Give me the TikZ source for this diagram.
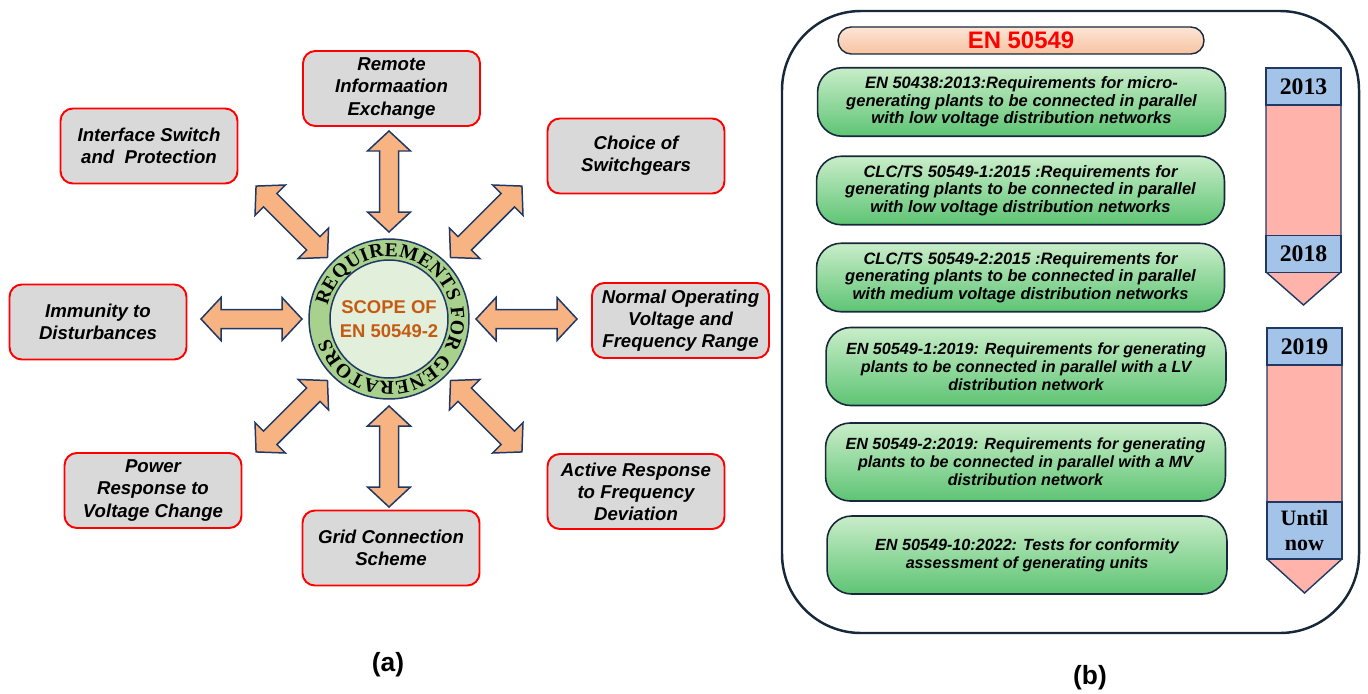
\documentclass[tikz,border=0pt]{standalone}
\usepackage{fontspec}
\setmainfont{Liberation Sans}
\newfontfamily\serifyear{Liberation Serif}
\usepackage{xcolor}
\usetikzlibrary{positioning,calc,decorations.text}

\definecolor{boxgray}{HTML}{D9D9D9}
\definecolor{arrowfill}{HTML}{F8B382}
\definecolor{navy}{HTML}{1F3864}
\definecolor{ringgreen}{HTML}{A9D18E}
\definecolor{innergreen}{HTML}{E2EFDA}
\definecolor{scopeorange}{HTML}{C55A11}
\definecolor{yearblue}{HTML}{A3C3E8}
\definecolor{barpink}{HTML}{FFB3AB}
\definecolor{greentop}{HTML}{C9EDC9}
\definecolor{greenbot}{HTML}{5EC474}
\definecolor{peachtop}{HTML}{FDE5D6}
\definecolor{peachbot}{HTML}{F7C3A1}
\definecolor{framecol}{HTML}{17283A}

\begin{document}
\begin{tikzpicture}[x=0.02cm,y=-0.02cm,
  req/.style={draw=red, line width=1.1pt, fill=boxgray, rounded corners=7pt,
    minimum width=3.54cm, minimum height=1.5cm, align=center, inner sep=2pt,
    font=\bfseries\itshape\fontsize{10.6}{12.6}\selectfont},
  std/.style={draw=framecol, line width=0.9pt, top color=greentop, bottom color=greenbot,
    rounded corners=14pt, minimum width=8.16cm, minimum height=1.37cm, align=center,
    inner sep=1pt, font=\bfseries\itshape\fontsize{9.4}{10}\selectfont},
  newstd/.style={std, minimum width=8cm, minimum height=1.56cm,
    font=\bfseries\itshape\fontsize{9.2}{10.2}\selectfont},
  yearcell/.style={draw=navy, line width=0.8pt, fill=yearblue, minimum width=1.5cm,
    minimum height=0.74cm, inner sep=0pt, align=center,
    font=\serifyear\bfseries\fontsize{13.5}{14}\selectfont},
  blockarrow/.style={draw=navy, line width=0.85pt, fill=arrowfill, line join=miter},
  caption/.style={font=\bfseries\fontsize{15}{18}\selectfont}
]
\useasboundingbox (0,0) rectangle (1368,693);

% (a) scope circle
\node[circle, draw=navy, line width=0.85pt, fill=ringgreen, minimum size=3.2cm, inner sep=0pt] (ring) at (389,319) {};
\node[circle, draw=navy, line width=0.85pt, fill=innergreen, minimum size=2.36cm, inner sep=0pt,
  align=center, text=scopeorange, font=\bfseries\fontsize{10.5}{13.7}\selectfont] (scope) at (ring.center) {SCOPE OF\\EN 50549-2};
\path[decorate, decoration={text along path, text align=fit to path,
  text={|\serifyear\bfseries\fontsize{11.2}{12}\selectfont|REQUIREMENTS FOR GENERATORS}}]
  (ring.center) ++(168:1.25cm) arc[start angle=168, end angle=-162, radius=1.25cm];

% Double arrows
\foreach \a in {0,45,...,315}
  \draw[blockarrow, shift={(ring.center)}, rotate=\a] (87,0) -- (107,21.5) -- (107,9.5) -- (168,9.5)
    -- (168,21.5) -- (188,0) -- (168,-21.5) -- (168,-9.5) -- (107,-9.5) -- (107,-21.5) -- cycle;

% Requirement boxes
\node[req] (remote) at (391.5,88.5) {Remote\\Informaation\\Exchange};
\node[req] (iface) at (149,146) {Interface Switch\\and\ \ Protection};
\node[req] (choice) at (636,156) {Choice of\\Switchgears};
\node[req] (immunity) at (98,322) {Immunity to\\Disturbances};
\node[req] (normal) at (680.5,320.5) {Normal Operating\\Voltage and\\Frequency Range};
\node[req] (power) at (153,490.5) {Power\\Response to\\Voltage Change};
\node[req] (grid) at (391,548) {Grid Connection\\Scheme};
\node[req] (active) at (636,491.5) {Active Response\\to Frequency\\Deviation};

\node[caption] (capa) at (388,665) {(a)};

% (b) frame
\draw[framecol, line width=1.4pt, rounded corners=45pt] (782,11) rectangle (1359,633);

\node[draw=framecol, line width=0.8pt, top color=peachtop, bottom color=peachbot, rounded corners=7.5pt,
  minimum width=7.32cm, minimum height=0.54cm, inner sep=0pt, text=red,
  font=\bfseries\fontsize{13.6}{15}\selectfont] (title) at (1021,40.5) {EN 50549};

% Standards
\node[std] (en50438) at (1021.5,102) {EN 50438:2013:Requirements for micro-\\generating plants to be connected in parallel\\with low voltage distribution networks};
\node[std] (ts1) at (1020.5,190.5) {CLC/TS 50549-1:2015 :Requirements for\\generating plants to be connected in parallel\\with low voltage distribution networks};
\node[std] (ts2) at (1020.5,277.5) {CLC/TS 50549-2:2015 :Requirements for\\generating plants to be connected in parallel\\with medium voltage distribution networks};
\node[newstd] (en1) at (1026,366.5) {EN 50549-1:2019: Requirements for generating\\plants to be connected in parallel with a LV\\distribution network};
\node[newstd] (en2) at (1025.5,462) {EN 50549-2:2019: Requirements for generating\\plants to be connected in parallel with a MV\\distribution network};
\node[newstd] (en10) at (1027,555) {EN 50549-10:2022: Tests for conformity\\assessment of generating units};

% Timelines
\draw[navy, line width=0.8pt, fill=barpink] (1266,100) -- (1341,100) -- (1341,272) -- (1303.5,305) -- (1266,272) -- cycle;
\node[yearcell] (y2013) at (1303.5,86.5) {2013};
\node[yearcell] (y2018) at (1303.5,254) {2018};

\draw[navy, line width=0.8pt, fill=barpink] (1267,360) -- (1342,360) -- (1342,559) -- (1304.5,593) -- (1267,559) -- cycle;
\node[yearcell] (y2019) at (1304.5,346.5) {2019};
\node[yearcell, minimum height=1.14cm, font=\serifyear\bfseries\fontsize{12.5}{14}\selectfont] (now) at (1304.5,530.5) {Until\\now};

\node[caption] (capb) at (1090,678) {(b)};
\end{tikzpicture}
\end{document}
